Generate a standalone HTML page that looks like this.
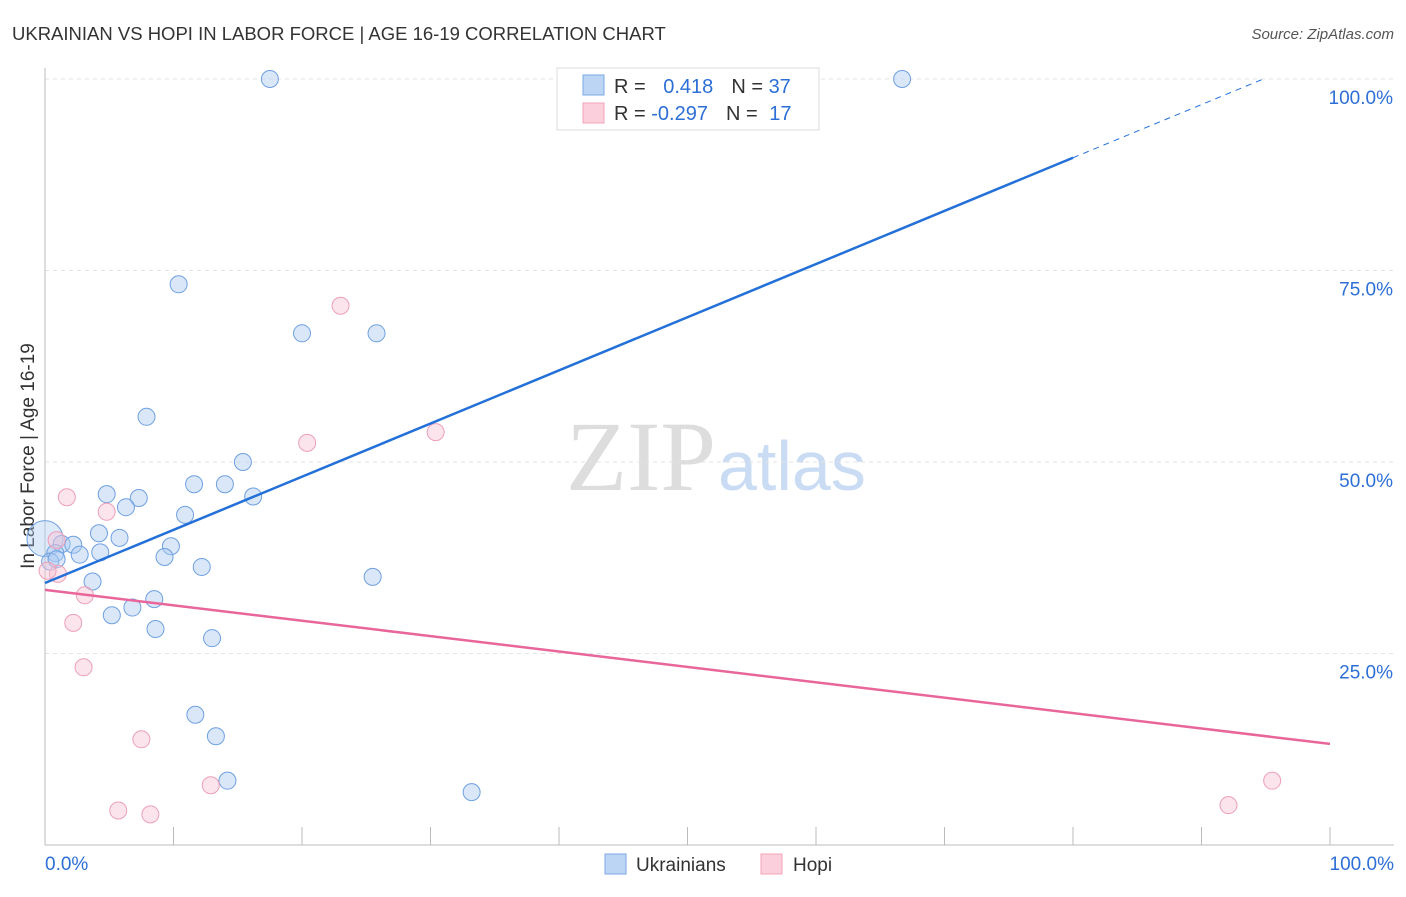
<!DOCTYPE html>
<html><head><meta charset="utf-8"><style>
body{margin:0;background:#fff;font-family:"Liberation Sans",sans-serif}
svg text{font-family:"Liberation Sans",sans-serif}
</style></head><body>
<svg id="c" width="1406" height="892" xmlns="http://www.w3.org/2000/svg">
<text x="12" y="40" font-size="18.5" fill="#333">UKRAINIAN VS HOPI IN LABOR FORCE | AGE 16-19 CORRELATION CHART</text>
<text x="1394" y="39" font-size="15" fill="#555" text-anchor="end" font-style="italic">Source: ZipAtlas.com</text>
<text x="716" y="490" font-size="100" fill="#ddd" text-anchor="end" style="font-family:'Liberation Serif',serif">ZIP</text>
<text x="718" y="490" font-size="70" fill="#c9dcf3">atlas</text>
<text transform="translate(34,456) rotate(-90)" font-size="19" fill="#333" text-anchor="middle">In Labor Force | Age 16-19</text>
<g id="grid"></g><g id="marks"></g>
<g>
<rect x="557" y="68" width="262" height="62" fill="#fff" stroke="#ddd"/>
<rect x="583" y="75" width="21" height="20" fill="#bcd5f5" stroke="#7aa7e3"/>
<rect x="583" y="103" width="21" height="20" fill="#fbd0dc" stroke="#f0a3ba"/>
<text x="614" y="93" font-size="20" fill="#333">R = <tspan fill="#2d6fd6" dx="12">0.418</tspan><tspan dx="18" fill="#333">N = </tspan><tspan fill="#2d6fd6">37</tspan></text>
<text x="614" y="120" font-size="20" fill="#333">R = <tspan fill="#2d6fd6">-0.297</tspan><tspan dx="18" fill="#333">N = </tspan><tspan fill="#2d6fd6" dx="6">17</tspan></text>
</g>
<g>
<rect x="605" y="854" width="21" height="20" fill="#bcd5f5" stroke="#7aa7e3"/>
<text x="636" y="871" font-size="19" fill="#333">Ukrainians</text>
<rect x="761" y="854" width="21" height="20" fill="#fbd0dc" stroke="#f0a3ba"/>
<text x="793" y="871" font-size="19" fill="#333">Hopi</text>
</g>
</svg>
<script>
const yTicks=[25,50,75,100];
const xTickLabels=["0.0%","100.0%"];
const blueX=[17.5,66.7,10.4,20,25.8,7.9,15.4,4.8,7.3,11.6,14,16.2,6.3,10.9,4.2,5.8,1.3,2.2,4.3,0.8,2.7,9.8,9.3,12.2,25.5,3.7,8.5,6.8,5.2,8.6,13,11.7,13.3,14.2,33.2,0.4,0.9];
const blueY=[100,100,73.2,66.8,66.8,55.9,50,45.8,45.3,47.1,47.1,45.5,44.1,43.1,40.7,40.1,39.3,39.2,38.2,38.1,37.9,39,37.6,36.3,35,34.4,32.1,31,30,28.2,27,17,14.2,8.4,6.9,37,37.3];
const pinkX=[0.9,1.7,4.8,1,3.1,2.2,3,23,20.4,30.4,7.5,5.7,8.2,12.9,95.5,92.1,0.2];
const pinkY=[39.8,45.4,43.5,35.4,32.6,29,23.2,70.4,52.5,53.9,13.8,4.5,4,7.8,8.4,5.2,35.8];
const blueLine=[0,34.2,100,103.6];const pinkLine=[0,33.3,100,13.2];
const X=v=>45+v*12.85, Y=v=>845-v*7.66;
const NS="http://www.w3.org/2000/svg";
function mk(t,a,p){const e=document.createElementNS(NS,t);for(const k in a)e.setAttribute(k,a[k]);p.appendChild(e);return e;}
const g=document.getElementById('grid'),m=document.getElementById('marks');
for(const t of yTicks){const l=mk('line',{x1:45,x2:1394,y1:Y(t),y2:Y(t),stroke:'#e3e3e3','stroke-dasharray':'4,4'},g);


const tx=mk('text',{x:1393,y:Y(t)+25,'font-size':19,fill:'#2d6fd6','text-anchor':'end'},g);tx.textContent=t.toFixed(1)+'%';

}
const ax=mk('line',{x1:45,x2:1394,y1:845,y2:845,stroke:'#bbb'},g);


const ay=mk('line',{x1:45,x2:45,y1:68,y2:845,stroke:'#bbb'},g);


for(let i=1;i<=10;i++){const l=mk('line',{x1:X(i*10),x2:X(i*10),y1:827,y2:845,stroke:'#bbb'},g);

}
[[0,'start',45],[100,'end',1394]].forEach((d,i)=>{const t=mk('text',{x:d[2],y:870,'font-size':19,fill:'#2d6fd6','text-anchor':d[1]},g);t.textContent=xTickLabels[i];

});
const bg=mk('circle',{cx:X(0),cy:Y(40),r:18,fill:'rgba(170,202,242,0.4)',stroke:'#6fa0e0'},m);


blueX.forEach((v,i)=>{const c=mk('circle',{cx:X(v),cy:Y(blueY[i]),r:8.5,fill:'rgba(170,202,242,0.45)',stroke:'#6fa0e0'},m);

});
pinkX.forEach((v,i)=>{const c=mk('circle',{cx:X(v),cy:Y(pinkY[i]),r:8.5,fill:'rgba(248,195,212,0.45)',stroke:'#eca0b8'},m);

});
const bx=v=>blueLine[1]+(blueLine[3]-blueLine[1])*v/100;
const b1=mk('line',{x1:X(0),y1:Y(bx(0)),x2:X(80),y2:Y(bx(80)),stroke:'#2370d8','stroke-width':2.5},m);


const b2=mk('line',{x1:X(80),y1:Y(bx(80)),x2:X(95),y2:Y(bx(95)),stroke:'#2370d8','stroke-width':1,'stroke-dasharray':'6,5'},m);


const p=mk('line',{x1:X(0),y1:Y(pinkLine[1]),x2:X(100),y2:Y(pinkLine[3]),stroke:'#e8669a','stroke-width':2.5},m);


</script>
</body></html>
